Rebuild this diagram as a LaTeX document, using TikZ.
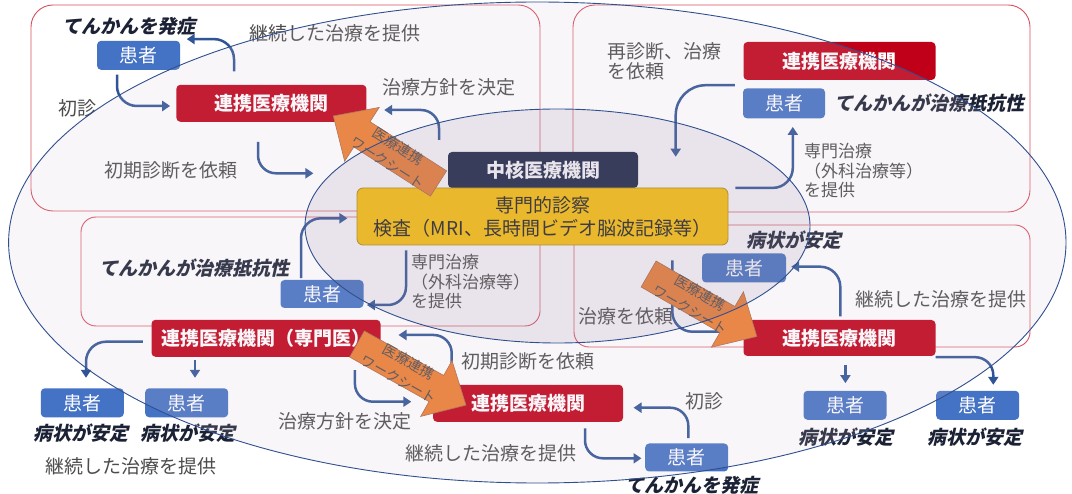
\documentclass[tikz,border=0pt]{standalone}
\usepackage{fontspec}
\setmainfont{Noto Sans CJK JP}
\newfontfamily\jp{Noto Sans CJK JP}
\newfontfamily\jpbi{Noto Sans CJK JP}[FakeSlant=0.22]
\usetikzlibrary{arrows.meta,calc}
\definecolor{redc}{HTML}{C00018}
\definecolor{bluec}{HTML}{4472C4}
\definecolor{connc}{HTML}{2F5597}
\definecolor{labelc}{HTML}{4C4C4C}
\definecolor{emphc}{HTML}{1C2235}
\definecolor{rectc}{HTML}{D85060}
\definecolor{orangec}{HTML}{ED7D31}
\definecolor{orangeedge}{HTML}{A86A48}
\definecolor{yellowc}{RGB}{255,197,0}
\definecolor{yellowedge}{HTML}{B08A10}
\definecolor{navyc}{RGB}{19,32,63}
\definecolor{ovone}{RGB}{215,195,215}
\definecolor{ovtwo}{RGB}{120,105,135}
\definecolor{ellc}{HTML}{2F4F8F}
\definecolor{darktext}{HTML}{1E1E1E}
\newcommand\wsArrow[4]{%
  \begin{scope}[shift={(#1,#2)}, rotate=#3]
    \fill[orangec, draw=orangeedge, line width=0.6pt]
      (0,-15) -- (91,-15) -- (91,-32) -- (125,0) -- (91,32) -- (91,15) -- (0,15) -- cycle;
    \node[wstext, rotate=#4] at (54,0) {医療連携\\ワークシート};
  \end{scope}}
\begin{document}
\begin{tikzpicture}[x=1pt,y=-1pt,
  lbl/.style={font=\jp\fontsize{19}{22}\selectfont, text=labelc, inner sep=0pt},
  lbltwo/.style={font=\jp\fontsize{19}{20}\selectfont, text=labelc, inner sep=0pt, align=left, anchor=west},
  lblsmall/.style={font=\jp\fontsize{17}{19.5}\selectfont, text=labelc, inner sep=0pt, align=left, anchor=west},
  emtext/.style={font=\jpbi\bfseries\fontsize{19}{22}\selectfont, text=emphc, inner sep=0pt},
  redbox/.style={fill=redc, rounded corners=4pt, text=white, font=\jp\bfseries\fontsize{19}{22}\selectfont, minimum width=190pt, minimum height=37pt, inner sep=0pt},
  bluebox/.style={fill=bluec, rounded corners=4pt, text=white, font=\jp\fontsize{19}{22}\selectfont, minimum width=83pt, minimum height=29pt, inner sep=0pt},
  navybox/.style={fill=navyc, rounded corners=4pt, text=white, font=\jp\bfseries\fontsize{19}{22}\selectfont, minimum width=190pt, minimum height=36pt, inner sep=0pt},
  yellowbox/.style={fill=yellowc, draw=yellowedge, line width=0.8pt, rounded corners=6pt, text=darktext, font=\jp\fontsize{19}{23}\selectfont, align=center, minimum width=371pt, minimum height=57pt, inner sep=0pt},
  conn/.style={draw=connc, line width=2.5pt, -{Triangle[length=8pt,width=10pt]}, rounded corners=18pt},
  redrect/.style={draw=rectc, line width=0.9pt},
  wstext/.style={font=\jp\fontsize{14}{20}\selectfont, text=labelc, align=center, inner sep=0pt},
]
\useasboundingbox (0,0) rectangle (1072,494);
\fill[white] (0,0) rectangle (1072,494);

% regions
\draw[redrect, rounded corners=22pt] (31,5) rectangle (540,211);
\draw[redrect, rounded corners=22pt] (573,5) rectangle (1030,212);
\draw[redrect, rounded corners=15pt] (81,217) rectangle (540,326);
\draw[redrect, rounded corners=15pt] (574,225) rectangle (1030,347);

% top-left
\node[emtext] (tHassho1) at (129,26) {てんかんを発症};
\node[bluebox] (p1) at (138.6,55.3) {患者};
\node[redbox] (r1) at (271.4,103.3) {連携医療機関};
\node[lbl] (lKeizoku1) at (335,33) {継続した治療を提供};
\node[lbl] (lHoushin1) at (449,87) {治療方針を決定};
\node[lbl] (lShoshin1) at (77,108) {初診};
\node[lbl] (lIrai1) at (171,170) {初期診断を依頼};
\coordinate (ci1) at (313.4,173.3);

% center
\node[navybox] (c1) at (543,170) {中核医療機関};
\node[yellowbox] (y1) at (542.5,216.5) {専門的診察\\検査（MRI、長時間ビデオ脳波記録等）};

% top-right
\node[redbox, minimum width=192pt, minimum height=38pt] (r2) at (839.5,61) {連携医療機関};
\node[bluebox, minimum width=82pt, minimum height=30pt] (p2) at (784,103.3) {患者};
\node[emtext] (tTeiko1) at (929,103) {てんかんが治療抵抗性};
\node[lbltwo] (lSaishin) at (607,61.7) {再診断、治療\\を依頼};
\node[lblsmall] (lSenmon1) at (804,171) {専門治療\\（外科治療等）\\を提供};
\coordinate (ci2) at (675.7,156.7);

% bottom-left
\node[emtext] (tTeiko2) at (194.5,268) {てんかんが治療抵抗性};
\node[bluebox, minimum height=28pt] (p3) at (322,294) {患者};
\node[lblsmall] (lSenmon2) at (411,281.7) {専門治療\\（外科治療等）\\を提供};
\node[redbox, minimum width=229pt] (r3) at (266,338.3) {連携医療機関（専門医）};
\node[bluebox] (p4) at (82.3,402.8) {患者};
\node[bluebox] (p5) at (186.7,402.8) {患者};
\node[emtext] (tAntei1) at (80.8,433.3) {病状が安定};
\node[emtext] (tAntei2) at (188.3,433.3) {病状が安定};
\node[lbl] (lKeizoku2) at (131,466.7) {継続した治療を提供};

% bottom-center
\node[redbox] (r4) at (528,403.3) {連携医療機関};
\node[lbl] (lIrai2) at (527.5,361.7) {初期診断を依頼};
\node[lbl] (lHoushin2) at (345,421.7) {治療方針を決定};
\node[lbl] (lKeizoku3) at (491,453.3) {継続した治療を提供};
\node[lbl] (lShoshin2) at (704,401.7) {初診};
\node[bluebox, minimum height=28pt] (p6) at (686.7,457.5) {患者};
\node[emtext] (tHassho2) at (692,485) {てんかんを発症};

% bottom-right
\node[bluebox, minimum width=84pt] (p7) at (744,268) {患者};
\node[emtext] (tAntei3) at (793.7,240) {病状が安定};
\node[lbl] (lKeizoku4) at (940.5,299.3) {継続した治療を提供};
\node[lbl] (lChiryoIrai) at (625.6,316.7) {治療を依頼};
\node[redbox, minimum width=192pt, minimum height=36pt] (r5) at (839.5,338) {連携医療機関};
\node[bluebox] (p8) at (845,405.3) {患者};
\node[bluebox] (p9) at (977.7,405.3) {患者};
\node[emtext] (tAntei4) at (845.8,436.7) {病状が安定};
\node[emtext] (tAntei5) at (975,436.7) {病状が安定};

% connectors
\draw[conn, rounded corners=20pt] ($(p1.south)+(-21.6,4.7)$) |- ($(r1.west)+(-6,2.7)$);
\draw[conn, rounded corners=20pt] ($(r1.north)+(-37.4,-13.1)$) |- ($(p1.north east)+(6.4,-1.5)$);
\draw[conn] ($(r1.south)+(-13.4,19.9)$) |- (ci1);
\draw[conn] ($(c1.north)+(-104,-12)$) |- ($(r1.east)+(17.6,6.7)$);
\draw[conn, rounded corners=30pt] ($(r2.south west)+(-8.5,5)$) -| (ci2);
\draw[conn, rounded corners=20pt] ($(y1.north east)+(7,0.3)$) -| ($(p2.south)+(8.8,8.4)$);
\draw[conn, rounded corners=20pt] ($(p3.north)+(-21,-1.7)$) |- ($(y1.west)+(-9.2,1.8)$);
\draw[conn] ($(y1.south)+(-136.5,5)$) |- ($(p3.east)+(3.2,11)$);
\draw[conn, rounded corners=20pt] ($(r3.west)+(-8.5,3.4)$) -| ($(p4.north)+(3.7,-10.3)$);
\draw[conn] ($(r3.south)+(-71,3.2)$) -- ($(p5.north)+(8.3,-10.3)$);
\draw[conn] ($(r4.north)+(-76.3,-21.5)$) |- ($(r3.east)+(17.8,-3.3)$);
\draw[conn] ($(r3.south east)+(-25.8,13.2)$) |- ($(r4.west)+(-21.5,-1.6)$);
\draw[conn] ($(r4.south)+(57,6.5)$) |- ($(p6.west)+(-3.5,0.8)$);
\draw[conn] ($(p6.north)+(1.6,-5.2)$) |- ($(r4.east)+(10.3,4.4)$);
\draw[conn, rounded corners=20pt] ($(r5.north)+(0.8,-3.3)$) |- ($(p7.east)+(5,-1.3)$);
\draw[conn, rounded corners=20pt] ($(y1.south)+(129.8,15)$) |- ($(r5.west)+(-5,-6.3)$);
\draw[conn] ($(r5.south)+(5.9,9)$) -- ($(p8.north)+(0.4,-7.5)$);
\draw[conn] ($(r5.south east)+(0,1)$) -| ($(p9.north)+(15.6,-5.8)$);

% worksheet arrows
\wsArrow{438.5}{183.5}{147.3}{-32.7}
\wsArrow{357}{344}{-29.3}{-29.3}
\wsArrow{648.6}{274}{-30}{-30}

% translucent ellipses on top
\fill[ovone, fill opacity=0.15] (537.3,242.5) ellipse [x radius=528.7pt, y radius=240.5pt];
\draw[ellc, line width=0.9pt] (537.3,242.5) ellipse [x radius=528.7pt, y radius=240.5pt];
\fill[ovtwo, fill opacity=0.12] (557.5,226) ellipse [x radius=252.5pt, y radius=117pt];
\draw[ellc, line width=0.9pt] (557.5,226) ellipse [x radius=252.5pt, y radius=117pt];
\end{tikzpicture}
\end{document}
